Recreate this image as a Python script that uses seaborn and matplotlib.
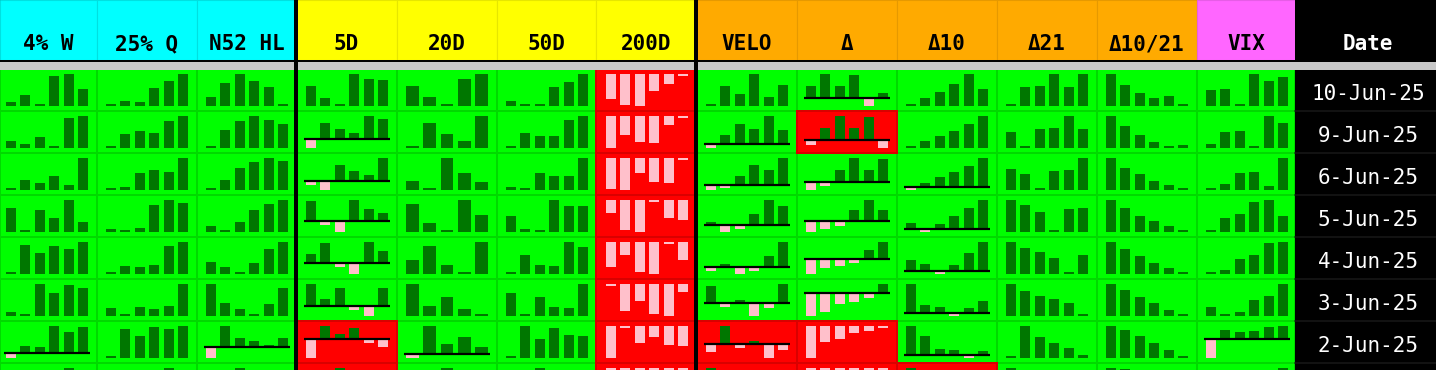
import matplotlib
matplotlib.use("Agg")
import matplotlib.pyplot as plt
import pandas as pd
import seaborn as sns
from matplotlib.patches import Rectangle

# ---------------- data ----------------
headers = ["4% W", "25% Q", "N52 HL", "5D", "20D", "50D", "200D",
           "VELO", "Δ", "Δ10", "Δ21", "Δ10/21", "VIX"]
dates = ["10-Jun-25", "9-Jun-25", "6-Jun-25", "5-Jun-25", "4-Jun-25",
         "3-Jun-25", "2-Jun-25"]

w4 = [[4, 11, 2, 30, 32, 17], [7, 4, 11, 2, 30, 32], [2, 10, 7, 14, 5, 32],
      [24, 2, 22, 14, 32, 10], [2, 29, 21, 28, 25, 32], [4, 2, 32, 23, 31, 28],
      [-4.7, 7.3, 6.3, 27.3, 21.3, 26.3], [10, -4.7, 7.3, 6.3, 27.3, 21.3]]
q25 = [[2, 5, 4, 18, 25, 32], [2, 14, 17, 15, 27, 32], [2, 3, 17, 20, 18, 32],
       [3, 2, 4, 27, 32, 29], [2, 8, 7, 9, 28, 32], [8, 2, 9, 7, 10, 32],
       [2, 29, 22, 31, 29, 32], [20, 2, 29, 22, 31, 29]]
n52 = [[9, 23, 32, 25, 19, 2], [2, 18, 27, 32, 28, 24], [2, 10, 22, 28, 32, 29],
       [6, 2, 10, 22, 28, 32], [12, 7, 2, 11, 25, 32], [32, 13, 7, 2, 12, 28],
       [-10.7, 21.3, 9.3, 6.3, 2.3, 9.3], [8, -10.7, 21.3, 9.3, 6.3, 2.3]]
d5 = [[20, 8, 2, 32, 27, 26], [-8.7, 16.3, 10.3, 6.3, 23.3, 20.3],
      [-3.7, -8.7, 16.3, 10.3, 6.3, 23.3], [20, -4, -11, 21, 12, 8],
      [9, 20, -4, -11, 21, 12], [22.3, 7.3, 18.3, -3.7, -9.7, 18.3],
      [-18.7, 13.3, 5.3, 11.3, -3.7, -7.7], [4, -18.7, 13.3, 5.3, 11.3, -3.7]]
d20 = [[20, 9, 2, 27, 32], [2, 25, 14, 7, 32], [9, 2, 32, 17, 8],
       [28, 9, 2, 32, 17], [14, 28, 9, 2, 32], [32, 10, 19, 7, 2],
       [-4.3, 27.7, 9.7, 16.7, 6.7], [12, -4.3, 27.7, 9.7, 16.7]]
d50 = [[5, 2, 2, 19, 24, 32], [2, 15, 12, 12, 28, 32], [3, 2, 17, 14, 14, 32],
       [16, 3, 2, 32, 26, 26], [2, 19, 9, 8, 32, 27], [23, 2, 19, 9, 8, 32],
       [2, 32, 19, 30, 23, 22], [10, 2, 32, 19, 30, 23]]
d200 = [[-25, -31, -32, -17, -10, -2], [-32, -19, -26, -27, -9, -2],
        [-31, -32, -15, -24, -25, -2], [-13, -30, -32, -2, -18, -20],
        [-25, -13, -30, -32, -2, -18], [-2, -27, -17, -30, -32, -8],
        [-32, -2, -17, -11, -19, -20], [-15, -32, -2, -17, -11, -19]]
velo = [[2, 20, 12, 32, 9, 21], [-4.3, 8.7, 19.7, 14.7, 27.7, 13.7],
        [-5.3, -3.3, 8.7, 19.7, 14.7, 26.7], [3, -7, -4, 11, 25, 19],
        [-4, 3, -7, -4, 11, 25], [17.3, -3.7, 3.3, -12.7, -4.7, 19.3],
        [-7.7, 18.3, -3.7, 3.3, -13.7, -5.7], [25, -7.7, 18.3, -3.7, 3.3, -13.7]]
delta = [[12.3, 24.3, 12.3, 23.3, -7.7, 5.3], [-4.7, 12.3, 24.3, 12.3, 23.3, -7.7],
         [-8, -4, 12, 24, 12, 23], [-10.7, -7.7, -4.7, 11.3, 21.3, 11.3],
         [-15, -9, -7, -4, 9, 17], [-22.7, -18.7, -10.7, -8.7, -4.7, 9.3],
         [-32, -16, -13, -7, -5, -2], [-10, -32, -16, -13, -7, -5]]
d10 = [[2, 8, 14, 22, 32, 17], [2, 7, 12, 17, 24, 32],
       [-3.3, 3.7, 9.7, 14.7, 20.7, 28.7], [6, -3, 5, 13, 21, 29],
       [11, 7, -3, 6, 18, 29], [28.7, 7.7, 5.7, -3.3, 4.7, 11.7],
       [29, 19, 6, 5, -3, 4], [34, 29, 19, 6, 5, -3]]
d21 = [[2, 19, 20, 32, 19, 32], [16, 2, 19, 20, 32, 19], [21, 16, 2, 19, 20, 32],
       [32, 27, 20, 2, 23, 24], [32, 26, 22, 16, 2, 19], [32, 25, 20, 17, 13, 2],
       [2, 32, 21, 15, 10, 3], [40, 2, 32, 21, 15, 10]]
d1021 = [[32, 21, 13, 8, 10, 2], [32, 22, 13, 6, 2, 3], [32, 22, 16, 9, 5, 2],
         [32, 24, 16, 11, 6, 2], [32, 25, 18, 11, 6, 2], [32, 26, 19, 13, 6, 2],
         [32, 28, 22, 15, 8, 2], [33, 32, 28, 22, 15, 8]]
vix = [[16, 17, 2, 32, 25, 29], [4, 16, 17, 2, 32, 25], [2, 6, 17, 18, 4, 32],
       [2, 14, 18, 30, 32, 16], [2, 4, 15, 19, 31, 32], [9, 2, 4, 16, 20, 32],
       [-18.7, 9.3, 7.3, 8.3, 12.3, 13.3], [5, -18.7, 9.3, 7.3, 8.3, 12.3]]

red_cells = [["200D"], ["200D", "Δ"], ["200D"], ["200D"], ["200D"], ["200D"],
             ["5D", "200D", "VELO", "Δ"], ["5D", "200D", "VELO", "Δ", "Δ10"]]

series = [w4, q25, n52, d5, d20, d50, d200, velo, delta, d10, d21, d1021, vix]
n_rows = len(red_cells)

# ---------------- style ----------------
GREEN, GREEN_SEP = "#00FF00", "#00DA00"
RED, RED_SEP = "#FF0000", "#DA0000"
BAR_GREEN, PINK = "#007700", "#FFC0CB"
hdr_fill = ["#00FFFF"] * 3 + ["#FFFF00"] * 4 + ["#FFAA00"] * 5 + ["#FF66FF"]
hdr_sep = ["#00E0E0"] * 3 + ["#E6E600"] * 4 + ["#E69900"] * 5 + ["#E65CE6"]

sns.set_theme(style="white")
plt.rcParams["font.family"] = ["DejaVu Sans Mono", "DejaVu Sans"]

W, H = 1436, 370
fig = plt.figure(figsize=(W / 100, H / 100), dpi=100)
fig.patch.set_facecolor("black")


def px_axes(x, y, w, h, z=1):
    ax = fig.add_axes([x / W, 1 - (y + h) / H, w / W, h / H])
    ax.set_zorder(z)
    return ax


bg = px_axes(0, 0, W, H, 0)
bg.set_xlim(0, W)
bg.set_ylim(H, 0)
bg.axis("off")

edges = [0, 97, 197, 296, 397, 497, 596, 696, 797, 897, 997, 1097, 1197, 1295]
ROW0, ROWH = 70, 42

# grid cells
for r in range(n_rows):
    top = ROW0 + ROWH * r
    for c, name in enumerate(headers):
        x0, x1 = edges[c], edges[c + 1]
        is_red = name in red_cells[r]
        bg.add_patch(Rectangle((x0, top - 1), x1 - x0, ROWH,
                               facecolor=RED if is_red else GREEN,
                               edgecolor=RED_SEP if is_red else GREEN_SEP,
                               linewidth=1.44, zorder=1 + is_red))

# header
for c, name in enumerate(headers):
    x0, x1 = edges[c], edges[c + 1]
    bg.add_patch(Rectangle((x0, 0), x1 - x0, 60, facecolor=hdr_fill[c],
                           edgecolor=hdr_sep[c], linewidth=0.8, zorder=3))
    bg.text((x0 + x1) / 2, 50, name, ha="center", va="baseline",
            fontsize=15, fontweight="bold", color="black", zorder=6)

bg.add_patch(Rectangle((0, 60), W, 2, facecolor="black", linewidth=0, zorder=4))
bg.add_patch(Rectangle((0, 62), W, 8, facecolor="#C8C8C8", linewidth=0, zorder=4))

# date column
bg.add_patch(Rectangle((1295, 0), W - 1295, 62, facecolor="black", linewidth=0, zorder=4))
bg.add_patch(Rectangle((1295, 70), W - 1295, H - 70, facecolor="black", linewidth=0, zorder=4))
bg.text(1368, 50, "Date", ha="center", va="baseline", fontsize=15,
        fontweight="bold", color="white", zorder=6)
for r in range(n_rows):
    top = ROW0 + ROWH * r
    bg.plot([1295, W], [top + 41, top + 41], color="#161616", lw=1.2, zorder=5)
for r, d in enumerate(dates):
    top = ROW0 + ROWH * r
    bg.text(1368, top + 30, d, ha="center", va="baseline", fontsize=15,
            color="white", zorder=6)

# thick black separators
for xb in (294, 694):
    bg.add_patch(Rectangle((xb, 0), 4, H, facecolor="black", linewidth=0, zorder=5))

# sparklines
for c, data in enumerate(series):
    L = 100 * c - 2
    for r, vals in enumerate(data):
        top = ROW0 + ROWH * r
        n = len(vals)
        w = 0.7 if n == 6 else 0.75
        p = 82 / (n - 1 + w)
        ax = px_axes(L + 6, top + 4, 86, 32, z=2)
        keys = [str(k) for k in range(n)]
        df = pd.DataFrame({"i": keys, "v": vals})
        pal = {k: (BAR_GREEN if v >= 0 else PINK) for k, v in zip(keys, vals)}
        sns.barplot(data=df, x="i", y="v", hue="i", palette=pal, width=w,
                    legend=False, ax=ax, saturation=1, linewidth=0,
                    errorbar=None, order=keys, hue_order=keys)
        lo, hi = min(0, min(vals)), max(0, max(vals))
        ax.set_xlim(-w / 2 - 2 / p, n - 1 + w / 2 + 2 / p)
        ax.set_ylim(lo, hi)
        if lo < 0 < hi:
            ax.axhline(0, color="black", lw=1.6, zorder=5)
        ax.axis("off")

fig.savefig("out.png", dpi=100, facecolor=fig.get_facecolor())
